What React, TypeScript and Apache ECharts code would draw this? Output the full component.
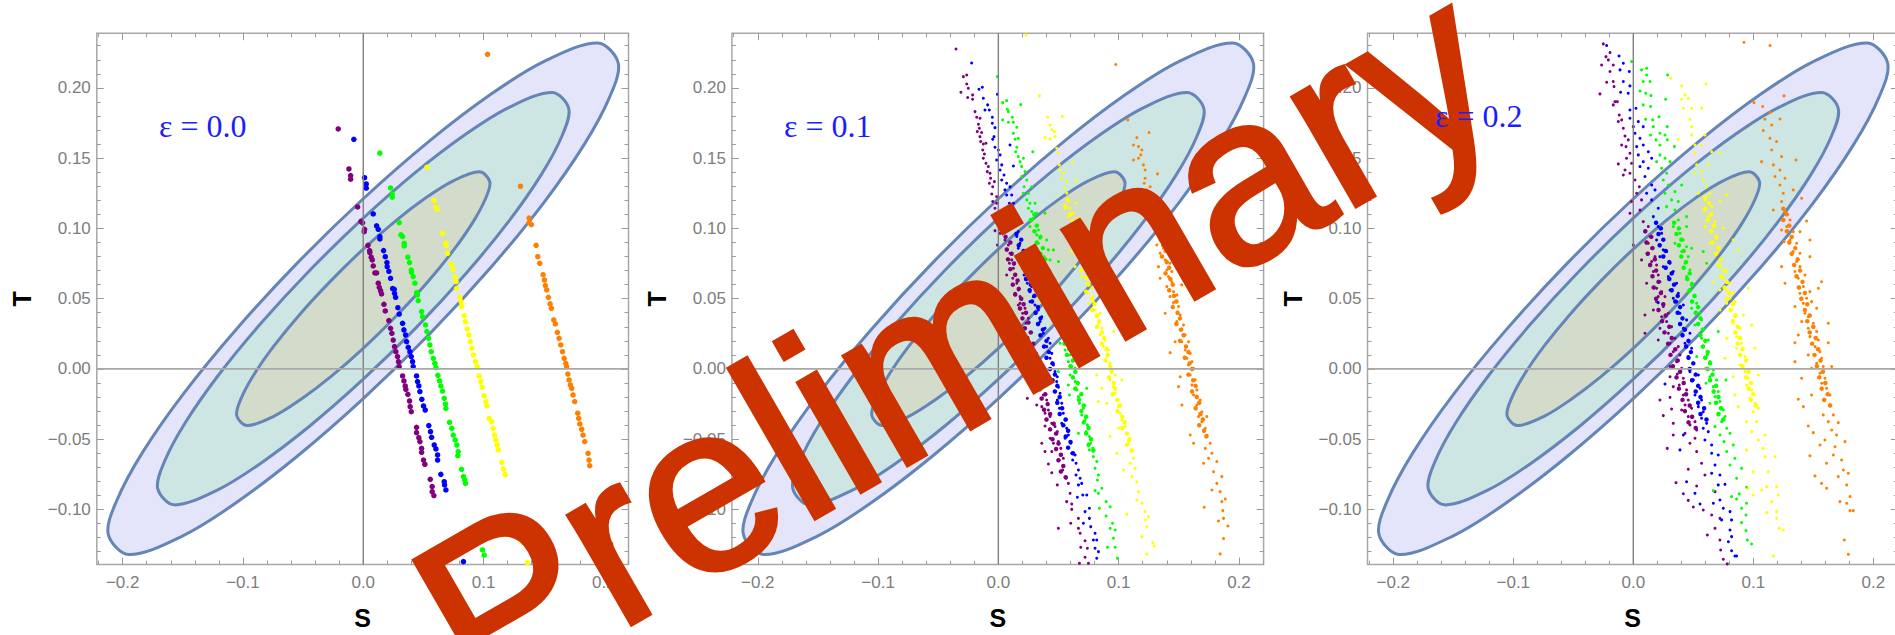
import React, { useEffect, useRef } from "react";
import * as echarts from "echarts";

const xMajor = [-0.2, -0.1, 0, 0.1, 0.2];
const xMinor = [-0.22, -0.18, -0.16, -0.14, -0.12, -0.08, -0.06, -0.04, -0.02, 0.02, 0.04, 0.06, 0.08, 0.12, 0.14, 0.16, 0.18, 0.22];
const yMajor = [-0.1, -0.05, 0, 0.05, 0.1, 0.15, 0.2];
const yMinor = [-0.13, -0.12, -0.11, -0.09, -0.08, -0.07, -0.06, -0.04, -0.03, -0.02, -0.01, 0.01, 0.02, 0.03, 0.04, 0.06, 0.07, 0.08, 0.09, 0.11, 0.12, 0.13, 0.14, 0.16, 0.17, 0.18, 0.19, 0.21, 0.22, 0.23];
const xMin = -0.2215, xMax = 0.2205, yMin = -0.1392, yMax = 0.2389;

const contourOuter = [[.212,.2175],[.195,.232],[.15,.2187],[.106,.1954],[.0549,.1621],[0,.1211],[-.0549,.0753],[-.106,.0278],[-.15,-.0182],[-.1836,-.0595],[-.2048,-.0934],[-.212,-.1175],[-.195,-.132],[-.15,-.1187],[-.106,-.0954],[-.0549,-.0621],[0,-.0211],[.0549,.0247],[.106,.0722],[.15,.1182],[.1836,.1596],[.2048,.1934]];
const contourMiddle = [[.1709,.185],[.1572,.1967],[.1209,.186],[.0854,.1672],[.0442,.1404],[0,.1073],[-.0442,.0704],[-.0854,.0321],[-.1209,-.005],[-.148,-.0383],[-.1651,-.0656],[-.1709,-.085],[-.1572,-.0967],[-.1209,-.086],[-.0854,-.0672],[-.0442,-.0404],[0,-.0073],[.0442,.0296],[.0854,.0679],[.1209,.105],[.148,.1383],[.1651,.1656]];
const contourInner = [[.1052,.1331],[.0967,.1403],[.0744,.1337],[.0526,.1221],[.0272,.1056],[0,.0853],[-.0272,.0625],[-.0526,.039],[-.0744,.0162],[-.0911,-.0043],[-.1016,-.0211],[-.1052,-.0331],[-.0967,-.0403],[-.0744,-.0337],[-.0526,-.0221],[-.0272,-.0056],[0,.0147],[.0272,.0375],[.0526,.061],[.0744,.0838],[.0911,.1043],[.1016,.1211]];

const p1Purple = [-.0208,.1708,-.0119,.1423,-.0105,.1376,-.0105,.135,-.0047,.1153,-.0019,.105,-.0006,.104,.0011,.0994,.0008,.0977,.0039,.088,.0053,.0842,.0055,.0828,.0066,.0795,.0075,.0776,.0083,.0733,.0097,.0683,.0111,.0683,.0125,.061,.0133,.0581,.0144,.0557,.0152,.0534,.0172,.046,.0183,.0413,.0213,.0344,.0227,.0289,.0238,.0254,.0249,.0206,.026,.0159,.0271,.0123,.0285,.0088,.0293,.0052,.0299,.0017,.0327,-.005,.0338,-.0085,.0349,-.0121,.0354,-.0145,.0371,-.018,.0385,-.0228,.039,-.0268,.0399,-.0304,.0443,-.0415,.0443,-.0453,.0462,-.0489,.0471,-.0517,.0485,-.0565,.0485,-.0593,.0501,-.0648,.0512,-.0678,.0557,-.0785,.0573,-.0837,.0573,-.0873,.0587,-.0901];
const p1Blue = [-.0078,.1634,.0011,.1361,.0025,.1316,.0025,.1286,.0083,.1103,.0111,.1018,.0125,.0994,.0138,.0942,.0138,.0925,.0169,.0842,.0183,.0799,.0197,.0757,.0199,.0728,.0213,.0695,.0227,.0645,.0244,.0572,.0258,.0567,.026,.0538,.0269,.051,.0288,.0436,.0299,.0391,.0327,.0325,.0338,.0278,.0352,.0242,.036,.0194,.0374,.0154,.0388,.0123,.0399,.0088,.041,.0052,.0415,.0017,.0443,-.005,.0451,-.009,.0462,-.0121,.0471,-.0161,.0487,-.0216,.0501,-.0263,.0515,-.0292,.0545,-.0403,.0559,-.0446,.0568,-.0486,.059,-.0541,.0604,-.0569,.0618,-.0612,.0618,-.0648,.0645,-.075,.0673,-.0802,.0676,-.0825,.0687,-.0861,.0833,-.1371];
const p1Green = [.0138,.1535,.0227,.1288,.0241,.1245,.0241,.1222,.0299,.1041,.0313,.0954,.0327,.0942,.0341,.0894,.0341,.0875,.0371,.0795,.0385,.0757,.0399,.0704,.0401,.0688,.0415,.0657,.0429,.061,.0443,.0543,.0451,.0527,.0457,.0486,.0485,.0408,.0493,.0372,.0518,.0313,.0529,.0266,.0543,.0218,.0554,.0171,.0565,.0123,.0582,.0076,.0595,.004,.0604,.0009,.062,-.0045,.0634,-.0085,.0645,-.0121,.0659,-.0157,.0673,-.0209,.0684,-.0249,.0687,-.028,.0717,-.038,.0736,-.0422,.0748,-.047,.0764,-.0505,.0778,-.0541,.0789,-.0588,.0786,-.0617,.0817,-.0714,.0833,-.0766,.0844,-.079,.085,-.0814,.0991,-.1288,.1005,-.1324];
const p1Yellow = [.0529,.1435,.0587,.12,.0604,.115,.0615,.1136,.0659,.0965,.0687,.0894,.0689,.0878,.07,.0823,.0731,.0745,.0747,.0709,.0761,.0657,.0772,.0621,.0775,.0572,.0803,.051,.0814,.0479,.0817,.0444,.0839,.038,.085,.0337,.0864,.0285,.0878,.0242,.0889,.0194,.0903,.0147,.0916,.01,.0933,.0052,.0947,.0017,.0963,-.005,.0977,-.009,.0988,-.013,.1005,-.019,.1019,-.0232,.1027,-.0263,.1047,-.0351,.1066,-.0375,.108,-.0422,.1091,-.047,.1102,-.0505,.1113,-.0541,.1122,-.0576,.1152,-.0664,.1166,-.0712,.118,-.0752,.1307,-.1198,.1324,-.1233,.1365,-.1378];
const p1Orange = [.1033,.2239,.1307,.13,.1379,.1074,.1379,.1041,.1398,.1027,.1437,.088,.1451,.0799,.1467,.0752,.1495,.0671,.1506,.0633,.1514,.0593,.1525,.0562,.1539,.051,.1553,.0463,.1564,.0432,.1584,.0349,.1597,.032,.1614,.0261,.1628,.0218,.1642,.0171,.1656,.0123,.167,.0076,.1684,.004,.169,.0017,.1701,-.0036,.1711,-.0078,.1722,-.0114,.1733,-.0138,.1744,-.0185,.1758,-.0232,.1783,-.0315,.1791,-.0351,.18,-.0391,.1816,-.0429,.1827,-.047,.1841,-.0517,.1869,-.06,.1877,-.0648,.1883,-.0688,.2057,-.1245];

const p2Purple = [-.0352,.2277,-.0291,.208,-.0263,.2092,-.0263,.2028,-.025,.1997,-.0311,.1969,-.0255,.1931,-.0214,.195,-.0214,.1919,-.0194,.1831,-.018,.1791,-.0152,.1784,-.0166,.1741,-.0158,.1713,-.0175,.1689,-.0139,.1682,-.0153,.1653,-.0147,.1618,-.0125,.1601,-.0103,.1606,-.013,.1558,-.0116,.153,-.0125,.1499,-.0103,.1463,-.0083,.144,-.0092,.1404,-.0069,.1392,-.0064,.1357,-.0075,.1321,-.0047,.1297,-.0033,.1333,-.0055,.1245,-.0014,.1226,-.0047,.1191,-.0014,.1179,-.0028,.1143,-.0042,.1084,-.0028,.0984,-.0008,.0882,.0014,.0965,.0055,.0918,.0083,.0882,.0069,.0847,.0097,.0823,.0111,.0776,.0092,.0752,.0125,.0716,.0139,.0669,.012,.0645,.0153,.061,.0166,.0562,.0139,.0538,.018,.0515,.0069,.0669,.018,.0467,.0222,.0432,.0202,.0396,.0166,.0455,.025,.0361,.023,.0325,.0291,-.0126,.0241,-.0209,.0347,-.0149,.0374,-.0185,.0319,-.0256,.0402,-.0221,.0361,-.0268,.0416,-.0292,.0388,-.0315,.043,-.0339,.0444,-.0387,.0388,-.0406,.0471,-.041,.049,-.0446,.043,-.0493,.0499,-.0517,.0361,-.0529,.0458,-.0529,.0519,-.0565,.0388,-.0588,.0444,-.0588,.054,-.0636,.0416,-.0676,.0535,-.0719,.0444,-.0738,.0563,-.0778,.049,-.0825,.0582,-.0814,.0596,-.0885,.0568,-.0944,.061,-.0961,.061,-.0999,.0666,-.1063,.0602,-.1098,.0499,-.1134,.0666,-.1134,.068,-.1169,.0685,-.1269,.0721,-.1222,.0721,-.134,.074,-.1276,.0674,-.1383,.0749,-.1383];
const p2Blue = [-.0222,.2177,-.0008,.1954,-.0161,.199,-.0133,.2004,-.0125,.1926,-.0089,.1879,-.0075,.1843,-.0111,.1843,-.005,.1791,-.005,.1748,-.0028,.1717,-.0036,.1653,-.0047,.1634,-.0028,.1577,0,.1558,.0014,.1523,-.0014,.1487,.0028,.1452,.0014,.1416,.0047,.138,.0028,.1345,.0069,.1321,.0055,.1274,.0097,.1297,.0069,.1238,.0111,.1238,.0092,.1179,.0125,.1179,.0166,.0977,.0153,.0942,.018,.0894,.0166,.0859,.0202,.0823,.0186,.0799,.0222,.0752,.0236,.0704,.0214,.0669,.0258,.0645,.0241,.061,.0277,.0586,.0263,.055,.0291,.0515,.0097,.1594,.0125,.1444,.0263,.0479,.0305,.0455,.0333,.042,.0361,.0372,.0347,.0337,.0388,.0289,.0374,.0254,.0416,.0218,.043,.0183,.0402,.0159,.0444,.0111,.043,.0076,.0458,.0028,.0471,-.0019,.049,-.0055,.0485,-.009,.0499,-.013,.0513,-.0173,.049,-.0221,.0527,-.0244,.0508,-.028,.054,-.0315,.0555,-.0363,.0527,-.0387,.0568,-.0422,.0582,-.047,.0555,-.0493,.0602,-.0529,.061,-.06,.0638,-.0612,.0618,-.0648,.0646,-.0671,.0666,-.0719,.0646,-.0754,.068,-.0778,.0693,-.0814,.0666,-.0825,.0702,-.0897,.0657,-.0913,.0735,-.0897,.0757,-.0991,.0721,-.1015,.0757,-.1063,.0707,-.1098,.0768,-.1122,.0804,-.1169,.079,-.1217,.0818,-.1217,.0804,-.1276,.0832,-.13,.0818,-.1347];
const p2Green = [-.0008,.208,.0036,.1895,.0069,.1909,.0075,.1848,.0186,.1881,.0083,.1831,.0036,.1772,.0083,.1755,.0116,.1791,.0125,.1755,.0153,.172,.0125,.1677,.0139,.1634,.0166,.1641,.0153,.1577,.0144,.1546,.0286,.1546,.0166,.1511,.018,.1475,.0208,.1499,.0194,.144,.0222,.1404,.0194,.1369,.0236,.1345,.0214,.1297,.025,.125,.0277,.1297,.0208,.125,.0236,.1203,.0263,.1179,.0305,.1179,.025,.1143,.0277,.112,.0319,.1108,.0291,.1072,.0388,.1108,.0263,.1013,.0333,.0989,.0319,.0954,.0347,.093,.0333,.0894,.0402,.0918,.0416,.0847,.038,.0799,.043,.0776,.0458,.0847,.05,.0764,.0471,.0444,.0513,.0396,.0499,.0325,.054,.0278,.0513,.0183,.0582,.0171,.0555,.0135,.0596,.01,.0582,.0052,.061,.0017,.0638,.0005,.0596,-.0043,.0499,-.0019,.0638,-.009,.0582,-.0114,.0652,-.0149,.0735,-.0138,.0591,-.0185,.0666,-.0197,.0674,-.0244,.0707,-.028,.0693,-.0327,.0721,-.0363,.074,-.0398,.0729,-.0446,.0666,-.0458,.0757,-.0481,.0768,-.0529,.0785,-.0565,.0757,-.0576,.079,-.0624,.0818,-.0659,.0804,-.0707,.0832,-.0754,.0824,-.079,.0804,-.0866,.086,-.0849,.0832,-.0885,.0896,-.0944,.084,-.0991,.0929,-.098,.0896,-.1046,.0949,-.1098,.0929,-.1134,.0971,-.1146,.0957,-.1205,.0907,-.1269,.0971,-.1269,.099,-.1347];
const p2Yellow = [.023,.2377,.0341,.1943,.041,.1791,.0532,.1796,.043,.1736,.0444,.1701,.0466,.1689,.0388,.1646,.043,.1637,.0471,.1653,.0485,.157,.05,.1535,.0507,.1452,.0616,.1471,.0513,.1416,.0541,.1392,.0527,.1357,.0569,.1333,.0555,.1286,.0646,.134,.0569,.125,.0582,.1203,.0555,.1167,.0596,.1143,.0646,.1179,.0624,.1108,.0582,.1084,.0666,.1072,.0638,.1048,.0596,.0918,.061,.0835,.0638,.0728,.068,.0799,.0707,.0752,.0721,.0704,.0693,.0657,.0749,.0657,.0735,.061,.0776,.0574,.0749,.0538,.079,.0515,.0749,.0467,.079,.0479,.0804,.042,.0818,.0372,.0846,.0396,.0832,.0325,.086,.0289,.0957,.0266,.0846,.0242,.0887,.0206,.0874,.0159,.0915,.0135,.0901,.0088,.0929,.004,.0818,-.0043,.0943,-.0019,.0929,-.0078,.0971,-.0043,.0957,-.0126,.086,-.0138,.0971,-.0173,.1026,-.0078,.0832,-.0232,.0985,-.0221,.0999,-.0268,.0901,-.0244,.1012,-.0315,.1026,-.0363,.0999,-.0422,.1054,-.041,.1068,-.0458,.0929,-.0481,.1082,-.0517,.1109,-.0588,.0985,-.06,.1123,-.0636,.1095,-.0671,.1137,-.0707,.104,-.0719,.1109,-.0766,.1151,-.0802,.1165,-.0873,.1151,-.0932,.1193,-.0956,.122,-.1015,.1248,-.1051,.1068,-.1032,.122,-.1074,.1234,-.1122,.1193,-.1193,.1284,-.1236,.1295,-.126,.1234,-.1316];
const p2Orange = [.0976,.2166,.1076,.1772,.1151,.1646,.1253,.1682,.1123,.1594,.1165,.1582,.1193,.1558,.1184,.1523,.1123,.1487,.1165,.1499,.1206,.1452,.122,.1416,.1323,.1388,.122,.1357,.1212,.1321,.1262,.1297,.1234,.1274,.1256,.1072,.129,.1025,.1317,.0977,.1345,.0942,.1317,.0882,.1373,.0859,.1345,.0823,.1401,.0835,.1387,.0776,.1428,.0752,.1331,.0728,.1401,.0704,.1442,.0693,.1414,.0657,.1484,.0728,.1345,.0645,.1442,.0621,.1525,.0598,.1401,.0586,.1456,.055,.1428,.0515,.1484,.0527,.1456,.0472,.1498,.0444,.1387,.0396,.1512,.0384,.1484,.0337,.1539,.0313,.1512,.0278,.1553,.0242,.147,.0194,.1525,.0194,.1581,.0194,.1428,.0116,.1553,.0135,.1595,.0111,.1567,.0076,.1609,.0052,.1581,.0028,.1623,.0005,.1595,-.0043,.1512,-.0055,.1636,-.0078,.1609,-.0114,.165,-.0149,.1498,-.0126,.1623,-.0185,.1678,-.0221,.165,-.0256,.1526,-.0256,.1692,-.0304,.1664,-.0339,.1733,-.0339,.1692,-.0375,.172,-.0422,.1595,-.047,.1733,-.047,.1761,-.0529,.1623,-.0529,.172,-.0565,.1775,-.06,.1747,-.0636,.1706,-.0671,.1816,-.0659,.1789,-.0731,.1858,-.0766,.1816,-.0814,.1775,-.0861,.1844,-.0873,.1886,-.0925,.1858,-.0944,.1711,-.0984,.1866,-.1008,.183,-.1082,.1872,-.1063,.1908,-.1117,.1872,-.1207,.1844,-.1316];

const p2PurpleCore = [.006,.094,.010,.090,.007,.085,.011,.082,.008,.078,.013,.075,.010,.071,.014,.067,.016,.063,.012,.060,.017,.057,.014,.053,.019,.050,.021,.046,.018,.043,.023,.040,.020,.036,.025,.033,.022,.029,.027,.026,.024,.022,.029,.018,.026,.015,.031,.011,.028,.007,.033,.004,.030,.000,.035,-.004,.032,-.007,.037,-.011,.034,-.014,.039,-.018,.036,-.021,.041,-.025,.038,-.029,.043,-.032,.040,-.036,.046,-.039,.043,-.043,.048,-.046,.045,-.050,.050,-.053,.048,-.057,.052,-.061,.050,-.065,.054,-.069,.052,-.073,.056,-.077];
const p2BlueCore = [.015,.096,.019,.092,.017,.088,.021,.084,.019,.080,.023,.076,.021,.072,.025,.068,.023,.064,.027,.060,.026,.056,.030,.052,.028,.048,.033,.044,.031,.040,.035,.036,.033,.032,.037,.028,.035,.024,.040,.020,.038,.016,.042,.012,.040,.008,.045,.004,.043,.000,.047,-.004,.045,-.008,.049,-.012,.047,-.016,.051,-.020,.049,-.024,.053,-.028,.051,-.032,.056,-.036,.054,-.040,.058,-.044,.056,-.048,.060,-.052,.058,-.056,.062,-.060];
const p2GreenCore = [.030,.110,.027,.106,.032,.102,.030,.098,.035,.094,.032,.090,.037,.086,.035,.082,.039,.078,.037,.074,.042,.070,.040,.066,.045,.062,.043,.058,.047,.054,.045,.050,.050,.046,.048,.042,.052,.038,.050,.034,.055,.030,.053,.026,.057,.022,.055,.018,.059,.014,.057,.010,.062,.006,.060,.002,.064,-.002,.062,-.006,.066,-.010,.064,-.014,.069,-.018,.067,-.022,.071,-.026,.069,-.030,.073,-.034,.071,-.038,.075,-.042,.073,-.046,.077,-.050,.075,-.054,.079,-.058];
const p2YellowCore = [.058,.120,.056,.115,.060,.110,.062,.105,.060,.100,.064,.095,.066,.090,.064,.085,.069,.080,.071,.075,.069,.070,.073,.065,.075,.060,.073,.055,.078,.050,.080,.046,.078,.042,.082,.038,.084,.034,.082,.030,.086,.026,.088,.022,.086,.018,.090,.014,.091,.010,.089,.006,.093,.002,.094,-.002,.092,-.006,.096,-.010,.097,-.014,.095,-.018,.099,-.022,.101,-.026,.099,-.030,.103,-.034,.105,-.038,.103,-.042,.107,-.046,.109,-.050,.107,-.054,.111,-.058];
const p2OrangeCore = [.135,.092,.137,.088,.139,.084,.136,.080,.140,.076,.142,.072,.139,.068,.143,.064,.145,.060,.142,.056,.146,.052,.148,.048,.145,.044,.149,.040,.151,.036,.148,.032,.152,.028,.154,.024,.151,.020,.156,.016,.158,.012,.155,.008,.159,.004,.161,.000,.158,-.004,.162,-.008,.164,-.012,.161,-.016,.165,-.020,.167,-.024,.164,-.028,.168,-.032,.170,-.036,.167,-.040,.171,-.044,.173,-.048];

const p3Purple = [-.0339,.24,-.025,.2313,-.0194,.2251,-.0228,.2222,-.0208,.2199,-.0264,.2163,-.0167,.2163,-.0194,.2116,-.0167,.2045,-.0222,.204,-.0161,.2009,-.0278,.1957,-.0153,.1902,-.0133,.1902,-.0167,.1879,-.0117,.1807,-.0097,.1772,-.0125,.176,-.0083,.1713,-.0069,.1658,-.0042,.163,-.0097,.1594,-.0061,.1582,-.0028,.1535,-.0056,.1499,-.0125,.1459,-.0014,.1463,-.0069,.1416,-.0028,.1392,-.0083,.138,.0014,.1345,.005,.1297,.0028,.125,-.0014,.1191,.0069,.1203,-.0028,.1108,.0056,.1131,.0083,.1048,.0125,.1013,.0097,.0977,.0139,.0942,0,.0882,.0125,.0894,.0153,.0859,.0125,.0823,.0181,.0799,.0069,.0776,.0153,.0764,.0194,.074,.0167,.0693,.0208,.0669,.0111,.061,.0222,.0621,.0194,.0574,.0236,.055,.0208,.0515,.0264,.0515,.0194,.0479,.025,.0444,.0167,.042,.0292,.0396,.0097,.0384,.0236,.0372,.0278,.0337,.0222,.0289,.0319,.0301,.0292,.0254,.0097,.0254,.0347,.0218,.0208,.0206,.0306,.0183,.0375,.0159,.0333,.0123,.0389,.01,.0361,.0052,.0306,.0017,.0403,.0005,.0367,-.0036,.0417,-.0066,.0306,-.0055,.0383,-.0114,.0444,-.0149,.0333,-.0126,.0417,-.0185,.0458,-.0221,.0222,-.0221,.0306,-.0202,.0431,-.0256,.0486,-.028,.0319,-.0285,.0403,-.0292,.0458,-.0339,.025,-.0332,.0514,-.0375,.0472,-.0398,.0333,-.0387,.0528,-.0434,.0431,-.0458,.0333,-.047,.0514,-.0493,.0472,-.0529,.0283,-.0565,.0528,-.0588,.0458,-.0714,.0569,-.0671,.0597,-.0754,.0356,-.0809,.0528,-.0833,.0681,-.0873,.0417,-.0888,.0458,-.0935,.05,-.0982,.0583,-.1003,.0653,-.1039,.0722,-.1063,.0681,-.1134,.0617,-.1181,.0722,-.1217,.0728,-.1288,.075,-.1354,.0783,-.1387];
const p3Blue = [-.0222,.2301,-.0119,.2227,-.0083,.2175,-.0111,.2128,-.0033,.2116,-.0083,.2045,-.0106,.1969,-.0028,.2014,-.0042,.1962,-.0028,.1843,.0022,.1855,-.0028,.1784,.0042,.176,0,.1724,.0083,.1724,.0014,.1677,.0056,.1641,.0028,.1582,.0083,.1594,.0125,.1546,.0042,.1523,.0153,.1499,.0083,.1475,.0125,.1428,.0056,.144,.0097,.1369,.0153,.1309,.0111,.125,.0181,.1274,.0153,.1203,.0208,.1143,.0167,.1084,.0208,.1013,.0236,.0965,.0194,.0918,.025,.0847,.0278,.0835,.0222,.0799,.0306,.0752,.025,.0728,.0333,.0693,.0292,.0657,.0361,.061,.0306,.0562,.0375,.0538,.0333,.0503,.0361,.0479,.0417,.0455,.0208,.0472,.0389,.0396,.0444,.0349,.0417,.0289,.0472,.0254,.0431,.0183,.0486,.0147,.0458,.0088,.05,.004,.0472,-.0019,.0542,-.0043,.0264,-.0107,.05,-.0078,.0556,-.0138,.0514,-.0185,.0569,-.0221,.0542,-.0268,.0583,-.0304,.0569,-.0351,.0611,-.0387,.0583,-.0422,.0625,-.0446,.0417,-.047,.0597,-.0505,.0653,-.0541,.0389,-.0576,.0653,-.06,.0708,-.0612,.0681,-.0683,.0653,-.0742,.0722,-.0754,.0444,-.0802,.0708,-.0825,.0764,-.0821,.0514,-.0885,.0667,-.0956,.0556,-.0961,.0722,-.0932,.075,-.0991,.0806,-.1015,.0819,-.1074,.0736,-.1074,.0806,-.1146,.0819,-.1193,.0792,-.1229,.0819,-.1293,.0847,-.1331,.0861,-.1331];
const p3Green = [-.0014,.2187,.0069,.2128,.0111,.2139,.0111,.2092,.0083,.2045,.0139,.2045,.0056,.1978,.0103,.1962,.0147,.1945,.0286,.2092,.0269,.1919,.0083,.1879,.0144,.1867,.0103,.1777,.0161,.1772,.0214,.1795,.0167,.1724,.0283,.1724,.0144,.1665,.0222,.1677,.0189,.163,.0264,.1665,.0222,.1594,.0283,.163,.0342,.1582,.0222,.1523,.0264,.1499,.0194,.1475,.0306,.1475,.0236,.1428,.0278,.1392,.025,.1345,.0292,.1309,.0264,.125,.0347,.1262,.0319,.1203,.0375,.1191,.0278,.1155,.0347,.1131,.0403,.1309,.0444,.1084,.0375,.106,.0333,.1013,.0444,.1013,.0389,.0965,.0417,.0918,.0347,.0894,.0444,.087,.0486,.0859,.0403,.0835,.0458,.0799,.0583,.0835,.0431,.0752,.0472,.0704,.0611,.0752,.0444,.0657,.0486,.061,.0458,.055,.0514,.0515,.0528,.0467,.0486,.0432,.0556,.0396,.0569,.0349,.0514,.0313,.0583,.0278,.0708,.0266,.0569,.0218,.0625,.0206,.0583,.0159,.0528,.0088,.0617,.01,.0639,.0052,.0606,.0005,.0667,-.0007,.0639,-.0055,.0694,-.0078,.0606,-.0102,.0667,-.0126,.0772,-.0078,.0708,-.0161,.0681,-.0197,.0722,-.0232,.0639,-.0244,.075,-.0292,.0708,-.0327,.0764,-.0339,.0736,-.0375,.0681,-.041,.0778,-.0422,.0722,-.047,.0806,-.0458,.0756,-.0517,.0833,-.0541,.0778,-.0588,.0847,-.0636,.0806,-.0683,.0903,-.0707,.0861,-.0778,.0667,-.0866,.0944,-.0842,.0819,-.0908,.0883,-.0889,.0861,-.0925,.0944,-.0956,.0903,-.0991,.0939,-.1039,.0903,-.1093,.0939,-.115,.095,-.1217,.0986,-.1245];
const p3Yellow = [.0311,.2068,.0403,.2014,.0606,.2028,.0431,.195,.0403,.1919,.0458,.1926,.0417,.1855,.0486,.1855,.0569,.1855,.0472,.1777,.0486,.1724,.0375,.1634,.0486,.1665,.0597,.1665,.0514,.1594,.0569,.1594,.0514,.1535,.0653,.1546,.0722,.1535,.0528,.1452,.0625,.1452,.0514,.1392,.0569,.1404,.0583,.1345,.0611,.1297,.0542,.125,.0639,.125,.0597,.1203,.0722,.1191,.0653,.1155,.0583,.1131,.0778,.1238,.0625,.1084,.0681,.1048,.0597,.1013,.0653,.0977,.075,.1001,.0694,.093,.0639,.0894,.0708,.087,.0833,.0918,.0681,.0823,.0736,.0776,.0875,.0847,.0722,.0728,.0778,.0693,.075,.0645,.0667,.0621,.0806,.061,.0778,.0562,.0833,.0538,.0958,.0574,.0722,.0562,.0806,.0503,.0778,.0467,.0847,.0479,.0819,.042,.0722,.042,.0847,.0372,.0917,.0384,.0833,.0325,.0889,.0289,.0986,.0313,.0778,.0218,.0861,.023,.0903,.0183,.1014,.0147,.0861,.0147,.0931,.0088,.0764,.0076,.0889,.0028,.0931,-.0019,.1042,-.0043,.0958,-.0066,.0833,-.0055,.0944,-.0114,.0986,-.0149,.0847,-.0185,.0972,-.0209,.1014,-.0244,.0875,-.0268,.1,-.0304,.1042,-.028,.0944,-.0375,.1028,-.0375,.0986,-.0446,.1097,-.047,.1042,-.0505,.0944,-.0576,.1083,-.0565,.1097,-.0624,.1181,-.0624,.1,-.0731,.1125,-.0731,.0958,-.0849,.1111,-.0837,.1069,-.0861,.1194,-.0837,.1,-.0897,.1208,-.0897,.1153,-.0944,.1111,-.1022,.1194,-.1015,.1194,-.1063,.1217,-.1134,.125,-.1146,.1167,-.1331];
const p3Orange = [.0922,.2325,.1139,.2301,.1006,.1895,.1256,.1943,.1078,.1867,.1139,.1824,.1097,.1777,.1222,.1779,.1153,.1736,.1083,.1696,.1139,.1641,.1194,.1618,.1153,.1558,.1236,.1511,.1069,.1475,.1167,.1452,.1356,.1487,.1222,.1416,.1181,.1369,.1264,.1357,.1222,.1309,.1333,.1274,.125,.125,.1236,.1191,.1403,.1214,.1167,.1131,.1264,.112,.1306,.106,.1444,.1053,.1278,.1013,.1236,.0989,.1333,.0977,.1389,.0977,.1306,.0918,.1256,.0906,.1361,.0894,.1472,.0918,.1333,.0835,.1389,.0823,.1361,.0764,.1472,.0799,.1236,.0728,.1389,.0728,.1347,.0693,.1431,.0669,.1375,.0645,.1569,.0621,.1264,.061,.1417,.0586,.1472,.055,.1389,.0538,.1542,.0574,.1444,.0503,.1417,.0467,.1486,.0479,.1347,.0444,.1528,.0432,.1431,.0396,.1458,.0372,.1403,.0337,.15,.0325,.1458,.0289,.1528,.0266,.1625,.0325,.1472,.023,.1375,.0242,.1542,.0206,.1347,.0187,.1514,.0159,.1625,.0187,.1556,.0123,.1458,.01,.1569,.0076,.1347,.0052,.1528,.004,.1583,.0017,.1653,.0017,.1486,.0005,.1556,-.0031,.1597,-.0066,.1403,-.0066,.1569,-.0102,.1611,-.0138,.1639,-.0185,.1486,-.0185,.1597,-.0221,.1375,-.0216,.1639,-.0256,.1417,-.0268,.1583,-.0327,.1667,-.0327,.1625,-.0375,.1708,-.0382,.1458,-.0406,.1653,-.0434,.15,-.0453,.1694,-.047,.1597,-.0505,.1764,-.0517,.1681,-.0553,.1556,-.0541,.1667,-.0612,.1472,-.0617,.1736,-.0648,.1611,-.0671,.175,-.0719,.1792,-.0742,.1708,-.0766,.1514,-.0761,.1569,-.0814,.1778,-.0825,.1611,-.0849,.1806,-.0908,.1722,-.0944,.1778,-.0956,.1806,-.1008,.1833,-.1008,.1758,-.1217,.1792,-.1319];

const p3PurpleCore = [.010,.098,.015,.094,.011,.090,.016,.086,.012,.082,.018,.078,.014,.074,.019,.070,.016,.066,.021,.062,.017,.058,.023,.054,.019,.050,.025,.046,.021,.042,.027,.038,.024,.034,.030,.030,.026,.026,.032,.022,.029,.018,.035,.014,.031,.010,.037,.006,.033,.002,.039,-.002,.036,-.006,.042,-.010,.038,-.014,.044,-.018,.041,-.022,.047,-.026,.043,-.030,.049,-.034,.046,-.038,.052,-.042];
const p3BlueCore = [.019,.104,.023,.100,.021,.096,.025,.092,.022,.088,.027,.084,.025,.080,.030,.076,.027,.072,.032,.068,.030,.064,.034,.060,.032,.056,.037,.052,.035,.048,.039,.044,.037,.040,.041,.036,.039,.032,.043,.028,.041,.024,.046,.020,.044,.016,.048,.012,.046,.008,.050,.004,.047,.000,.052,-.004,.049,-.008,.054,-.012,.052,-.016,.056,-.020,.054,-.024,.059,-.028,.056,-.032,.061,-.036];
const p3GreenCore = [.034,.104,.038,.100,.036,.096,.040,.092,.038,.088,.042,.084,.040,.080,.044,.076,.042,.072,.047,.068,.045,.064,.049,.060,.047,.056,.051,.052,.049,.048,.054,.044,.052,.040,.056,.036,.054,.032,.058,.028,.056,.024,.060,.020,.058,.016,.062,.012,.060,.008,.064,.004,.062,.000,.066,-.004,.064,-.008,.069,-.012,.067,-.016,.071,-.020,.069,-.024,.073,-.028,.071,-.032,.075,-.036];
const p3YellowCore = [.060,.122,.063,.118,.060,.114,.065,.110,.062,.106,.067,.102,.065,.098,.069,.094,.066,.090,.071,.086,.069,.082,.073,.078,.071,.074,.076,.070,.073,.066,.078,.062,.076,.058,.080,.054,.078,.050,.083,.046,.081,.042,.085,.038,.083,.034,.087,.030,.085,.026,.089,.022,.087,.018,.091,.014,.089,.010,.094,.006,.091,.002,.096,-.002,.094,-.006,.098,-.010,.096,-.014,.100,-.018,.098,-.022,.102,-.026];
const p3OrangeCore = [.125,.114,.128,.110,.125,.106,.130,.102,.128,.098,.132,.094,.130,.090,.135,.086,.132,.082,.137,.078,.134,.074,.139,.070,.136,.066,.141,.062,.138,.058,.143,.054,.140,.050,.145,.046,.143,.042,.147,.038,.145,.034,.150,.030,.147,.026,.152,.022,.149,.018,.154,.014,.151,.010,.156,.006,.153,.002,.158,-.002,.155,-.006,.160,-.010,.157,-.014,.162,-.018,.159,-.022,.164,-.026];

const seriesColors = ["#800080", "#0000ff", "#00ff00", "#ffff00", "#ff8000"];
const panelPoints = [
  [p1Purple, p1Blue, p1Green, p1Yellow, p1Orange],
  [p2Purple, p2Blue, p2Green, p2Yellow, p2Orange],
  [p3Purple, p3Blue, p3Green, p3Yellow, p3Orange],
];
const panelCores = [
  [[], [], [], [], []],
  [p2PurpleCore, p2BlueCore, p2GreenCore, p2YellowCore, p2OrangeCore],
  [p3PurpleCore, p3BlueCore, p3GreenCore, p3YellowCore, p3OrangeCore],
];
const epsilonLabels = ["ε = 0.0", "ε = 0.1", "ε = 0.2"];
const axisNames = ["S", "T"];
const watermark = "Preliminary";

const toPairs = (flat: number[]) => {
  const out: number[][] = [];
  for (let i = 0; i + 1 < flat.length; i += 2) out.push([flat[i], flat[i + 1]]);
  return out;
};
const fmt = (digits: number) => (v: number) => (v < 0 ? "\u2212" : "") + Math.abs(v).toFixed(digits);

const FONT = "Liberation Sans";
const grids = [
  { left: 96.8, top: 33.2, width: 531.7, height: 531.4 },
  { left: 731.9, top: 33.2, width: 531.7, height: 531.4 },
  { left: 1367.5, top: 33.2, width: 530.4, height: 531.4 },
];
const tickLine = { color: "#9a9a9a", width: 1 };

function axes(dim: "x" | "y", gridIndex: number) {
  const isX = dim === "x";
  const range = isX ? { min: xMin, max: xMax } : { min: yMin, max: yMax };
  const major = isX ? xMajor : yMajor;
  const minor = isX ? xMinor : yMinor;
  const [near, far] = isX ? ["bottom", "top"] : ["left", "right"];
  const base = {
    type: "value", gridIndex, ...range, scale: true,
    axisLine: { show: false, onZero: false }, splitLine: { show: false },
    axisLabel: { show: false },
  };
  const t = (customValues: number[], length: number) => ({ show: true, inside: true, customValues, length, lineStyle: tickLine });
  return [
    {
      ...base, position: near, axisTick: t(major, 7),
      axisLabel: {
        show: true, customValues: major, formatter: fmt(isX ? 1 : 2), margin: isX ? 9 : 6,
        color: "#7d7d7d", fontSize: 17, fontFamily: FONT, hideOverlap: false,
      },
      name: isX ? axisNames[0] : axisNames[1], nameLocation: "middle", nameGap: isX ? 41 : 62,
      nameRotate: isX ? 0 : 90,
      nameTextStyle: { fontFamily: FONT, fontWeight: "bold", fontSize: 25, color: "#000" },
    },
    { ...base, position: near, axisTick: t(minor, 4) },
    { ...base, position: far, axisTick: t(major, 7) },
    { ...base, position: far, axisTick: t(minor, 4) },
  ];
}

export default function App() {
  const ref = useRef<HTMLDivElement>(null);
  useEffect(() => {
    document.body.style.margin = "0";
    const chart = echarts.init(ref.current!, null, { renderer: "svg" });
    const series: any[] = [];
    grids.forEach((_, g) => {
      const ax = { xAxisIndex: g * 4, yAxisIndex: g * 4 };
      const contour = (pts: number[][], fill: string) => ({
        type: "custom", ...ax, silent: true, data: pts, encode: { x: 0, y: 1 },
        renderItem: (params: any, api: any) => {
          if (params.dataIndex !== 0) return null;
          return {
            type: "polygon",
            shape: { points: pts.map((p) => api.coord(p)), smooth: 0.33 },
            style: { fill, stroke: "#6485b5", lineWidth: 3 },
          };
        },
      });
      series.push(contour(contourOuter, "#e4e5fa"), contour(contourMiddle, "#cde6e4"), contour(contourInner, "#d3dbca"));
      series.push({
        type: "line", ...ax, silent: true, symbol: "none",
        data: [[0, yMin], [0, yMax]], lineStyle: { color: "#808080", width: 1.4 },
      });
      series.push({
        type: "line", ...ax, silent: true, symbol: "none",
        data: [[xMin, 0], [xMax, 0]], lineStyle: { color: "#a8a8a8", width: 1.8 },
      });
      panelPoints[g].forEach((flat, i) => {
        series.push({
          type: "scatter", ...ax, silent: true, symbol: "circle", symbolSize: g === 0 ? 5.5 : 3,
          itemStyle: { color: seriesColors[i], opacity: 1 }, data: toPairs(flat),
        });
        if (panelCores[g][i].length) {
          series.push({
            type: "scatter", ...ax, silent: true, symbol: "circle", symbolSize: 4.5,
            itemStyle: { color: seriesColors[i], opacity: 1 }, data: toPairs(panelCores[g][i]),
          });
        }
      });
    });
    const epsPos = [[159, 126], [784, 126], [1435, 116]];
    chart.setOption({
      animation: false,
      backgroundColor: "#fff",
      grid: grids.map((g) => ({ ...g, show: true, borderColor: "#a8a8a8", borderWidth: 1.5, backgroundColor: "transparent", containLabel: false, outerBoundsMode: "none" })),
      xAxis: grids.flatMap((_, g) => axes("x", g)),
      yAxis: grids.flatMap((_, g) => axes("y", g)),
      series,
      graphic: {
        elements: [
          {
            type: "text", x: 438, y: 641, rotation: Math.PI / 6, z: 100, silent: true,
            style: {
              text: watermark, fontFamily: FONT, fontSize: 239, fill: "#cc3300",
              stroke: "#cc3300", lineWidth: 4, align: "left", verticalAlign: "middle",
            },
          },
          ...epsilonLabels.map((text, i) => ({
            type: "text", x: epsPos[i][0], y: epsPos[i][1], z: 101, silent: true,
            style: { text, fontFamily: "Liberation Serif", fontSize: 32, fill: "#1c1cff", align: "left", verticalAlign: "middle" },
          })),
        ],
      },
    });
    return () => chart.dispose();
  }, []);
  return <div ref={ref} style={{ width: 1895, height: 635, position: "absolute", left: 0, top: 0 }} />;
}
